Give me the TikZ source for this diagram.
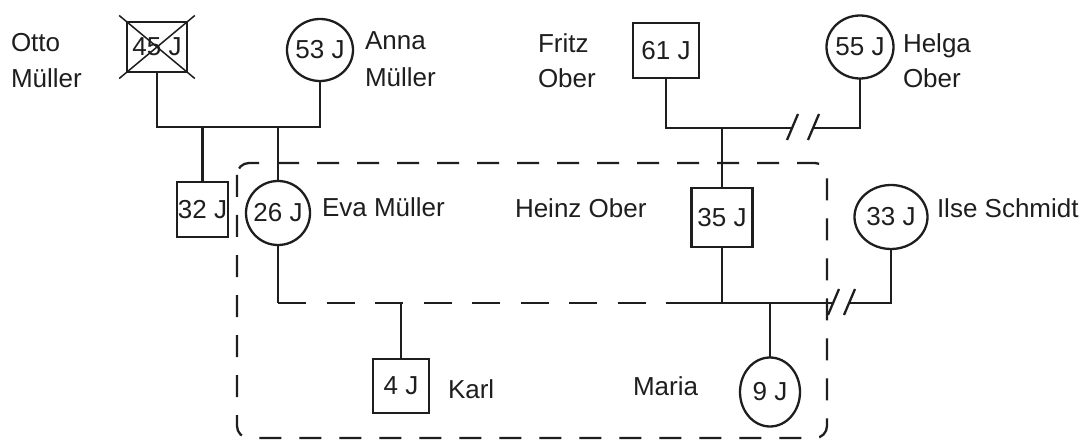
\documentclass[tikz,border=0pt]{standalone}
\usepackage{fontspec}
\setmainfont{Liberation Sans}
\usetikzlibrary{shapes.geometric,calc}
\newcommand\gfont{\fontsize{26}{30}\selectfont}
\definecolor{ink}{HTML}{1E1E1E}
\tikzset{
  person/.style={draw=ink, text=ink, line width=2.3pt, inner sep=0pt, outer sep=0pt, font=\gfont},
  male/.style={person, rectangle},
  female/.style={person, ellipse},
  lbl/.style={font=\gfont, text=ink, inner sep=0pt, outer sep=0pt, anchor=base west},
  conn/.style={draw=ink, line width=2.3pt},
  famline/.style={draw=ink, line width=2.3pt, dash pattern=on 28pt off 20.5pt},
  frame/.style={draw=ink, line width=2.3pt, dash pattern=on 22pt off 18pt, rounded corners=12pt},
  cross/.style={draw=ink, line width=1.5pt}
}
\newcommand\pt[1]{\makebox[0pt]{#1}}
\begin{document}
\begin{tikzpicture}[x=1pt,y=-1pt]
\useasboundingbox (0,0) rectangle (1080,441);

% dashed household frame
\draw[frame] (237,163) rectangle (827,438);

% persons
\node[male,   minimum width=60pt, minimum height=50pt] (otto)  at (157,47)    {\pt{45 J}};
\node[female, minimum width=66pt, minimum height=62pt] (anna)  at (320,50)    {\pt{53 J}};
\node[male,   minimum width=51pt, minimum height=55pt] (sohn)  at (202.5,209.5) {\pt{32 J}};
\node[female, minimum width=64pt, minimum height=64pt] (eva)   at (278,213)   {\pt{26 J}};
\node[male,   minimum width=66pt, minimum height=55pt] (fritz) at (666,50.5)  {\pt{61 J}};
\node[female, minimum width=67pt, minimum height=63pt] (helga) at (860,47)    {\pt{55 J}};
\node[male,   minimum width=61pt, minimum height=59pt] (heinz) at (722,217.5) {\pt{35 J}};
\node[female, minimum width=73pt, minimum height=64pt] (ilse)  at (891,217)   {\pt{33 J}};
\node[male,   minimum width=56pt, minimum height=54pt] (karl)  at (401,386)   {\pt{4 J}};
\node[female, minimum width=60pt, minimum height=69pt] (maria) at (770,392)   {\pt{9 J}};

% Otto deceased cross
\draw[cross] ($(otto.north west)!-0.13!(otto.south east)$) -- ($(otto.south east)!-0.13!(otto.north west)$);
\draw[cross] ($(otto.north east)!-0.13!(otto.south west)$) -- ($(otto.south west)!-0.13!(otto.north east)$);

% names
\node[lbl] (n1a) at (11,52) {Otto};
\node[lbl] (n1b) at (11,88) {Müller};
\node[lbl] (n2a) at (365,50) {Anna};
\node[lbl] (n2b) at (365,87) {Müller};
\node[lbl] (n3a) at (538,53) {Fritz};
\node[lbl] (n3b) at (538,88) {Ober};
\node[lbl] (n4a) at (903,53) {Helga};
\node[lbl] (n4b) at (903,88) {Ober};
\node[lbl] (n5) at (322,216) {Eva Müller};
\node[lbl] (n6) at (515,218) {Heinz Ober};
\node[lbl] (n7) at (937,218) {Ilse Schmidt};
\node[lbl] (n8) at (448,398) {Karl};
\node[lbl] (n9) at (633,395) {Maria};

% Müller family
\coordinate (mueller) at (240,127);
\draw[conn] (otto.south) |- (mueller) -| (anna.south);
\draw[conn] (sohn.north) -- (sohn.north |- mueller);
\draw[conn] (eva.north) -- (eva.north |- mueller);

% Ober family (divorced)
\coordinate (ober) at (723,128);
\coordinate (odA) at (792,128);
\coordinate (odB) at (813,128);
\draw[conn] (fritz.south) |- (odA);
\draw[conn] (odB) -| (helga.south);
\draw[conn] (odA) ++(-5,12) -- ++(11,-26);
\draw[conn] (odB) ++(-5,12) -- ++(11,-26);
\draw[conn] (heinz.north) -- (heinz.north |- ober);

% Eva - Heinz partnership and Heinz - Ilse (divorced)
\coordinate (hj) at (722,303);
\coordinate (ec) at (eva.south |- hj);
\coordinate (ds) at (668,303);
\coordinate (idA) at (833,303);
\coordinate (idB) at (849,303);
\draw[conn] (eva.south) -- (ec);
\draw[famline] (ec) -- (ds);
\draw[conn] (ds) -- (hj);
\draw[conn] (heinz.south) -- (hj) -- (idA);
\draw[conn] (idB) -| (ilse.south);
\draw[conn] (idA) ++(-5,12) -- ++(11,-26);
\draw[conn] (idB) ++(-5,12) -- ++(11,-26);
\draw[conn] (karl.north) -- (karl.north |- hj);
\draw[conn] (maria.north) -- (maria.north |- hj);
\end{tikzpicture}
\end{document}
